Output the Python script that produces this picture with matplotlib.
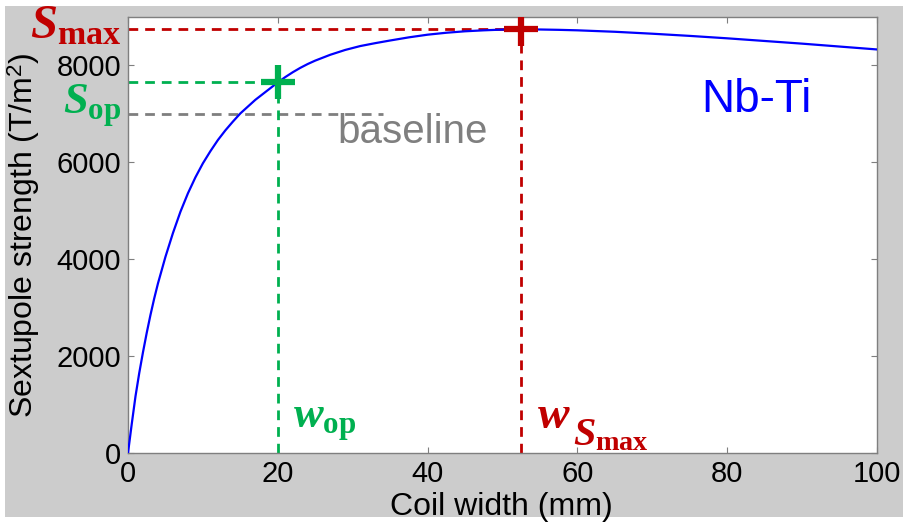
import matplotlib
matplotlib.use("Agg")
import matplotlib.pyplot as plt
from matplotlib.patches import Rectangle

plt.rcParams['font.family'] = ['Liberation Sans', 'DejaVu Sans']
plt.rcParams['mathtext.fontset'] = 'custom'
plt.rcParams['mathtext.rm'] = 'Liberation Sans'
plt.rcParams['mathtext.it'] = 'Liberation Serif:italic:bold'
plt.rcParams['mathtext.bf'] = 'Liberation Serif:bold'

# curve
coil_width = [0, 0.5, 1, 1.5, 2, 2.5, 3, 3.5, 4, 5, 6, 7, 8, 9, 10, 11, 12, 13, 14,
              15, 16, 17, 18, 19, 20, 21, 22, 23, 24, 25, 27, 29, 31, 33, 35, 37.5,
              40, 42.5, 45, 47.5, 50, 52.5, 55, 57.5, 60, 65, 70, 75, 80, 85, 90,
              95, 100]
strength = [0, 600, 1170, 1650, 2080, 2480, 2850, 3190, 3500, 4050, 4540, 4980,
            5360, 5690, 5980, 6230, 6460, 6660, 6840, 7010, 7150, 7290, 7410,
            7530, 7650, 7760, 7860, 7950, 8030, 8100, 8220, 8320, 8400, 8460,
            8515, 8580, 8635, 8675, 8705, 8725, 8740, 8745, 8742, 8735, 8725,
            8695, 8655, 8610, 8560, 8505, 8450, 8390, 8330]

w_op, s_op = 20, 7650
w_smax, s_max = 52.5, 8745
s_base, base_end = 7000, 34

xticks = [0, 20, 40, 60, 80, 100]
yticks = [0, 2000, 4000, 6000, 8000]

RED = '#c00000'
GREEN = '#00b050'
GREY = '#7f7f7f'
BLUE = '#0000ff'

W, H = 912, 522
fig = plt.figure(figsize=(W / 100, H / 100), dpi=100, facecolor='white')
fig.patches.append(Rectangle((5 / W, 5 / H), 898 / W, 511 / H, transform=fig.transFigure,
                             facecolor='#cccccc', edgecolor='none', zorder=-10))

ax = fig.add_axes([128 / W, 69 / H, 749 / W, 436 / H])
ax.set_facecolor('white')

dash = (0, (3.5, 2.5))
ax.plot([0, base_end], [s_base, s_base], color=GREY, lw=2, linestyle=dash)
ax.plot([0, w_op], [s_op, s_op], color=GREEN, lw=2, linestyle=dash)
ax.plot([w_op, w_op], [0, s_op], color=GREEN, lw=2, linestyle=dash)
ax.plot([0, w_smax], [s_max, s_max], color=RED, lw=2, linestyle=dash)
ax.plot([w_smax, w_smax], [0, s_max], color=RED, lw=2, linestyle=dash)

ax.plot(coil_width, strength, color=BLUE, lw=1.6, zorder=3)

ax.plot([w_op], [s_op], marker='+', ms=24, mew=4.5, color=GREEN, zorder=4)
ax.plot([w_smax], [s_max], marker='+', ms=24, mew=4.5, color=RED, zorder=4)

ax.set_xlim(0, 100)
ax.set_ylim(0, 9000)
ax.set_xticks(xticks)
ax.set_yticks(yticks)
ax.tick_params(direction='in', top=True, right=True, length=4, color=GREY,
               labelsize=21, pad=5)
for sp in ax.spines.values():
    sp.set_color(GREY)
    sp.set_linewidth(1)

ax.set_xlabel('Coil width (mm)', fontsize=23)
ax.xaxis.set_label_coords(0.498, -0.09)
ax.set_ylabel('Sextupole strength (T/m$^2$)', fontsize=23)
ax.yaxis.set_label_coords(-0.115, 0.5)


def px(x, y):
    return x / W, 1 - y / H


fig.text(*px(337, 143), 'baseline', color=GREY, fontsize=29, va='baseline')
fig.text(*px(701, 112), 'Nb-Ti', color=BLUE, fontsize=33, va='baseline')

fig.text(*px(121, 38), r'$S_{\mathbf{max}}$', color=RED, fontsize=35,
         ha='right', va='baseline')
fig.text(*px(121, 114), r'$S_{\mathbf{op}}$', color=GREEN, fontsize=32,
         ha='right', va='baseline')
fig.text(*px(293, 428), r'$w_{\mathbf{op}}$', color=GREEN, fontsize=32,
         va='baseline')
fig.text(*px(537, 428), r'$w$', color=RED, fontsize=34, va='baseline')
fig.text(*px(573, 445), r'$S_{\mathbf{max}}$', color=RED, fontsize=29,
         va='baseline')

fig.savefig('out.png', dpi=100, facecolor=fig.get_facecolor())
